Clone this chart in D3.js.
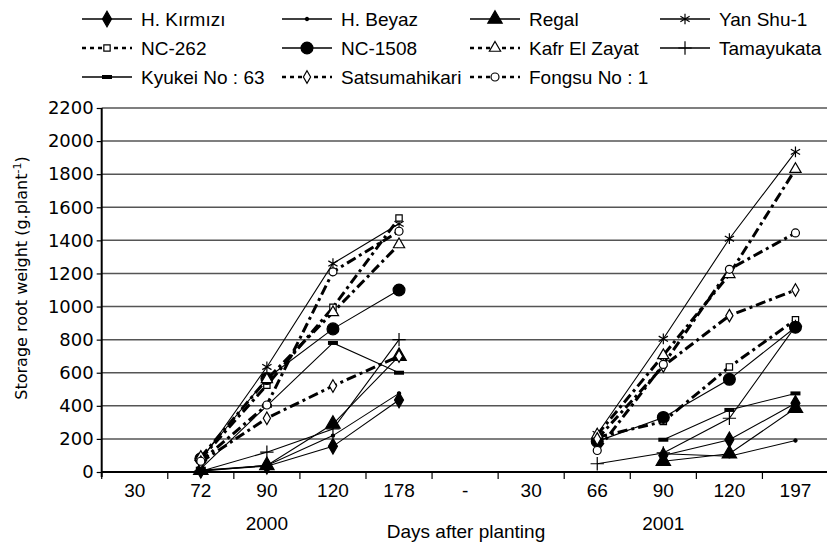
<!DOCTYPE html>
<html>
<head>
<meta charset="utf-8">
<script src="https://cdn.jsdelivr.net/npm/d3@7"></script>
<style>
  body { margin: 0; background: #fff; }
  svg { display: block; }
  .tick text { fill: #000; }
  .narrow { font-family: 'Liberation Sans', Arial, sans-serif; }
</style>
</head>
<body>
<svg id="chart"></svg>
<script>
// x categories (two seasons, separated by '-')
const categories = ['30', '72', '90', '120', '178', '-', '30', '66', '90', '120', '197']
const years = [{ label: '2000', at: 2 }, { label: '2001', at: 8 }]
const yTicks = [0, 200, 400, 600, 800, 1000, 1200, 1400, 1600, 1800, 2000, 2200]

const varieties = ['H. Kırmızı', 'H. Beyaz', 'Regal', 'Yan Shu-1', 'NC-262', 'NC-1508',
  'Kafr El Zayat', 'Tamayukata', 'Kyukei No : 63', 'Satsumahikari', 'Fongsu No : 1']

// 2000 -> 72, 90, 120, 178 days
const days2000 = [1, 2, 3, 4]
const weight2000 = [
  [10, 35, 155, 435],
  [5, 40, 220, 475],
  [10, 40, 290, 700],
  [70, 635, 1260, 1500],
  [80, 525, 995, 1535],
  [80, 565, 865, 1100],
  [90, 560, 965, 1375],
  [5, 120, 260, 800],
  [20, 400, 780, 600],
  [60, 325, 520, 700],
  [65, 405, 1210, 1455]
]

// 2001 -> 66, 90, 120, 197 days
const days2001 = [7, 8, 9, 10]
const weight2001 = [
  [null, 100, 195, 415],
  [null, 110, 95, 190],
  [null, 65, 110, 385],
  [230, 805, 1410, 1935],
  [210, 305, 635, 920],
  [185, 330, 560, 875],
  [225, 705, 1195, 1830],
  [50, 115, 325, 880],
  [null, 195, 375, 475],
  [200, 640, 945, 1100],
  [130, 650, 1225, 1445]
]

// marker + line style per variety
const markers = ['diamondFilled', 'dot', 'triangleFilled', 'asterisk', 'squareOpen', 'circleFilled',
  'triangleOpen', 'plus', 'dash', 'diamondOpen', 'circleOpen']
const dashed = [false, false, false, false, true, false, true, false, false, true, true]

const width = 827, height = 543
const svg = d3.select('#chart').attr('width', width).attr('height', height)

const x = d3.scaleBand().domain(d3.range(categories.length)).range([101.7, 828.5]).padding(0)
const y = d3.scaleLinear().domain([0, 2200]).range([472, 108])
const bw = x.bandwidth()

// gridlines
svg.append('g').selectAll('line').data(yTicks.filter(d => d > 0)).join('line')
  .attr('x1', x.range()[0]).attr('x2', width)
  .attr('y1', d => y(d)).attr('y2', d => y(d))
  .attr('stroke', '#555').attr('stroke-width', 1.5)

// y axis
const yAxis = svg.append('g').attr('transform', `translate(${x.range()[0]},0)`)
  .call(d3.axisLeft(y).tickValues(yTicks).tickFormat(d3.format('d')).tickSize(5).tickPadding(3))
yAxis.select('.domain').attr('stroke', '#000').attr('stroke-width', 2)
  .attr('d', `M0,${y(0) + 5}V${y(2200)}`)
yAxis.selectAll('.tick line').attr('stroke', '#000').attr('stroke-width', 1.2)
yAxis.selectAll('.tick text').attr('font-family', "'DejaVu Sans', Verdana, sans-serif").attr('font-size', 18)

// x axis
const xAxis = svg.append('g').attr('transform', `translate(0,${y(0)})`)
  .call(d3.axisBottom(x).tickFormat(i => categories[i]).tickSize(0).tickPadding(12))
xAxis.select('.domain').attr('stroke', '#000').attr('stroke-width', 2)
  .attr('d', `M${x.range()[0]},0H${width}`)
xAxis.selectAll('.tick text').attr('class', 'narrow').attr('font-size', 19)
xAxis.selectAll('line.bound').data(d3.range(categories.length)).join('line')
  .attr('class', 'bound')
  .attr('x1', d => x(d)).attr('x2', d => x(d))
  .attr('y1', 0).attr('y2', 7)
  .attr('stroke', '#000').attr('stroke-width', 1.2)

svg.append('g').selectAll('text').data(years).join('text')
  .attr('class', 'narrow')
  .attr('x', d => x(d.at) + bw / 2).attr('y', 530)
  .attr('text-anchor', 'middle').attr('font-size', 19)
  .text(d => d.label)

svg.append('text').attr('class', 'narrow')
  .attr('x', 466).attr('y', 538).attr('text-anchor', 'middle').attr('font-size', 19)
  .text('Days after planting')

const yTitle = svg.append('text')
  .attr('transform', 'translate(27,278) rotate(-90)')
  .attr('text-anchor', 'middle')
  .attr('font-family', "'DejaVu Sans', Verdana, sans-serif").attr('font-size', 16)
yTitle.append('tspan').text('Storage root weight (g.plant')
yTitle.append('tspan').attr('dy', -6).attr('font-size', 11).text('-1')
yTitle.append('tspan').attr('dy', 6).text(')')

function drawMarker(g, type) {
  const filled = /Filled|dot|dash/.test(type)
  const fill = filled ? '#000' : '#fff'
  if (type === 'dash') {
    g.append('rect').attr('x', -5).attr('y', -2).attr('width', 10).attr('height', 4).attr('fill', '#000')
    return
  }
  if (type === 'asterisk' || type === 'plus') {
    const sym = type === 'asterisk' ? d3.symbolAsterisk : d3.symbolPlus
    g.append('path').attr('d', d3.symbol(sym, type === 'asterisk' ? 80 : 60)())
      .attr('fill', 'none').attr('stroke', '#000').attr('stroke-width', 1.2)
    return
  }
  const table = {
    diamondFilled: [d3.symbolDiamond, 70],
    dot: [d3.symbolCircle, 8],
    triangleFilled: [d3.symbolTriangle, 90],
    squareOpen: [d3.symbolSquare, 40],
    circleFilled: [d3.symbolCircle, 110],
    triangleOpen: [d3.symbolTriangle, 55],
    diamondOpen: [d3.symbolDiamond, 45],
    circleOpen: [d3.symbolCircle, 50]
  }
  const [sym, size] = table[type]
  g.append('path').attr('d', d3.symbol(sym, size)())
    .attr('fill', fill).attr('stroke', '#000').attr('stroke-width', 1.2)
}

const line = d3.line()
  .defined(d => d.v != null)
  .x(d => x(d.i) + bw / 2)
  .y(d => y(d.v))

function styleLine(sel, i) {
  sel.attr('fill', 'none').attr('stroke', '#000')
    .attr('stroke-width', dashed[i] ? 3 : 1.1)
    .attr('stroke-dasharray', dashed[i] ? '10,4,3,4' : null)
}

const plot = svg.append('g')
varieties.forEach((name, i) => {
  const seasons = [
    days2000.map((c, k) => ({ i: c, v: weight2000[i][k] })),
    days2001.map((c, k) => ({ i: c, v: weight2001[i][k] }))
  ]
  seasons.forEach(pts => {
    plot.append('path').datum(pts).attr('d', line).call(styleLine, i)
  })
})
// markers on top
varieties.forEach((name, i) => {
  const pts = days2000.map((c, k) => ({ i: c, v: weight2000[i][k] }))
    .concat(days2001.map((c, k) => ({ i: c, v: weight2001[i][k] })))
    .filter(d => d.v != null)
  pts.forEach(d => {
    const m = plot.append('g').attr('transform', `translate(${x(d.i) + bw / 2},${y(d.v)})`)
    drawMarker(m, markers[i])
  })
})

// legend
const legendCols = [82, 282, 470, 660]
const legendRows = [19, 48, 77]
const legend = svg.append('g')
varieties.forEach((name, i) => {
  const lx = legendCols[i % 4], ly = legendRows[Math.floor(i / 4)]
  const item = legend.append('g').attr('transform', `translate(${lx},${ly})`)
  item.append('line').attr('x1', 0).attr('x2', 50).attr('y1', 0).attr('y2', 0)
    .call(styleLine, i)
    .attr('stroke-width', dashed[i] ? 2.5 : 1.3)
    .attr('stroke-dasharray', dashed[i] ? '4,4' : null)
  drawMarker(item.append('g').attr('transform', 'translate(25,0)'), markers[i])
  item.append('text').attr('class', 'narrow')
    .attr('x', 59).attr('y', 0).attr('dy', '0.35em').attr('font-size', 19)
    .text(name)
})
</script>
</body>
</html>
